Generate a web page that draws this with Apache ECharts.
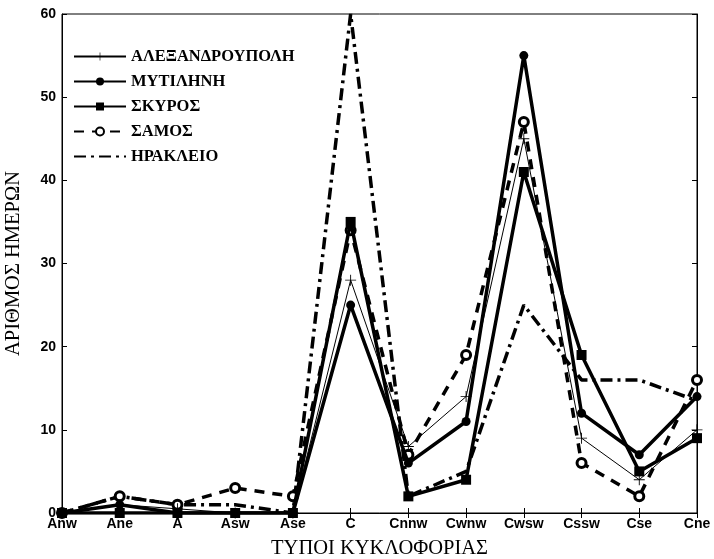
<!DOCTYPE html>
<html>
<head>
<meta charset="utf-8">
<script src="https://cdn.jsdelivr.net/npm/echarts@6/dist/echarts.min.js"></script>
<style>
  html, body { margin: 0; padding: 0; background: #fff; }
  #chart { width: 714px; height: 559px; }
</style>
</head>
<body>
<div id="chart"></div>
<script>
// τύποι κυκλοφορίας
var categories = ['Anw', 'Ane', 'A', 'Asw', 'Ase', 'C', 'Cnnw', 'Cwnw', 'Cwsw', 'Cssw', 'Cse', 'Cne'];
var yTicks = [0, 10, 20, 30, 40, 50, 60];

var alexandroupoli = [0, 1, 0.5, 0, 0, 28, 8, 14, 45, 9, 4, 10];
var mytilini       = [0, 1, 0, 0, 0, 25, 6, 11, 55, 12, 7, 14];
var skyros         = [0, 0, 0, 0, 0, 35, 2, 4, 41, 19, 5, 9];
var samos          = [0, 2, 1, 3, 2, 34, 7, 19, 47, 6, 2, 16];
var irakleio       = [0, 2, 1, 1, 0, 60, 2, 5, 25, 16, 16, 13.5];

var dom = document.getElementById('chart');
var myChart = echarts.init(dom);

var plusSymbol = 'path://M4.6,0h0.8v4.6h4.6v0.8h-4.6v4.6h-0.8v-4.6h-4.6v-0.8h4.6z';

var axisTxt = {
    color: '#000',
    fontFamily: 'Liberation Sans, Arial',
    fontWeight: 'bold',
    fontSize: 14
};

myChart.setOption({
    animation: false,
    backgroundColor: '#fff',
    grid: {
        left: 62,
        right: 17,
        top: 14,
        bottom: 46,
        outerBoundsMode: 'none',
        show: true,
        borderColor: '#000',
        borderWidth: 1
    },
    legend: {
        left: 68,
        top: 43,
        orient: 'vertical',
        itemWidth: 52,
        itemHeight: 10,
        itemGap: 8,
        textStyle: {
            color: '#000',
            fontFamily: 'Liberation Serif, Times New Roman',
            fontWeight: 'bold',
            fontSize: 16.5
        },
        data: [
            'ΑΛΕΞΑΝΔΡΟΥΠΟΛΗ',
            'ΜΥΤΙΛΗΝΗ',
            'ΣΚΥΡΟΣ',
            'ΣΑΜΟΣ',
            { name: 'ΗΡΑΚΛΕΙΟ', itemStyle: { color: 'rgba(0,0,0,0)', borderWidth: 0 } }
        ]
    },
    xAxis: [
        {
            type: 'category',
            boundaryGap: false,
            data: categories,
            name: 'ΤΥΠΟΙ ΚΥΚΛΟΦΟΡΙΑΣ',
            nameLocation: 'middle',
            nameGap: 25,
            nameTextStyle: {
                color: '#000',
                fontFamily: 'Liberation Serif, Times New Roman',
                fontSize: 20.5
            },
            axisLine: { lineStyle: { color: '#000', width: 1 } },
            axisTick: { inside: true, length: 5, lineStyle: { color: '#000' } },
            axisLabel: Object.assign({ margin: 4, interval: 0 }, axisTxt),
            splitLine: { show: false }
        },
        {
            type: 'category',
            boundaryGap: false,
            position: 'top',
            data: categories,
            axisLine: { lineStyle: { color: '#000' } },
            axisTick: { inside: true, length: 5, lineStyle: { color: '#000' } },
            axisLabel: { show: false }
        }
    ],
    yAxis: [
        {
            type: 'value',
            min: 0,
            max: 60,
            interval: 10,
            name: 'ΑΡΙΘΜΟΣ ΗΜΕΡΩΝ',
            nameLocation: 'middle',
            nameGap: 38,
            nameTextStyle: {
                color: '#000',
                fontFamily: 'Liberation Serif, Times New Roman',
                fontSize: 20.5
            },
            axisLine: { show: true, lineStyle: { color: '#000' } },
            axisTick: { show: true, inside: true, length: 5, lineStyle: { color: '#000' } },
            axisLabel: Object.assign({
                margin: 6,
                formatter: function (v) { return yTicks.indexOf(v) >= 0 ? String(v) : ''; }
            }, axisTxt),
            splitLine: { show: false }
        },
        {
            type: 'value',
            min: 0,
            max: 60,
            interval: 10,
            position: 'right',
            axisLine: { show: true, lineStyle: { color: '#000' } },
            axisTick: { show: true, inside: true, length: 5, lineStyle: { color: '#000' } },
            axisLabel: { show: false },
            splitLine: { show: false }
        }
    ],
    series: [
        {
            name: 'ΑΛΕΞΑΝΔΡΟΥΠΟΛΗ',
            type: 'line',
            data: alexandroupoli,
            symbol: plusSymbol,
            symbolSize: 11,
            z: 5,
            itemStyle: { color: '#000' },
            lineStyle: { color: '#000', width: 1 }
        },
        {
            name: 'ΜΥΤΙΛΗΝΗ',
            type: 'line',
            data: mytilini,
            symbol: 'circle',
            symbolSize: 9,
            z: 4,
            itemStyle: { color: '#000' },
            lineStyle: { color: '#000', width: 3.5 }
        },
        {
            name: 'ΣΚΥΡΟΣ',
            type: 'line',
            data: skyros,
            symbol: 'rect',
            symbolSize: 10,
            z: 4,
            itemStyle: { color: '#000' },
            lineStyle: { color: '#000', width: 3.5 }
        },
        {
            name: 'ΣΑΜΟΣ',
            type: 'line',
            data: samos,
            symbol: 'circle',
            symbolSize: 9,
            showAllSymbol: true,
            z: 3,
            itemStyle: { color: '#fff', borderColor: '#000', borderWidth: 3 },
            lineStyle: { color: '#000', width: 3.5, type: [10, 8] }
        },
        {
            name: 'ΗΡΑΚΛΕΙΟ',
            type: 'line',
            data: irakleio,
            symbol: 'none',
            z: 2,
            itemStyle: { color: '#000' },
            lineStyle: { color: '#000', width: 3.5, type: [12, 5, 3, 5] }
        }
    ]
});

window.addEventListener('resize', function () {
    myChart.resize();
});
</script>
</body>
</html>
